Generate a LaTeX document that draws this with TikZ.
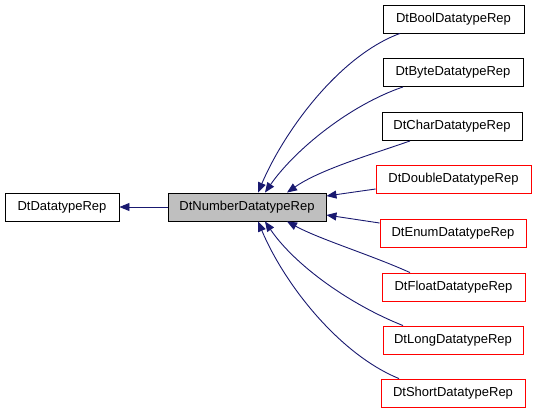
\documentclass[tikz,border=0pt]{standalone}
\usepackage{fontspec}
\setmainfont{Liberation Sans}
\usetikzlibrary{arrows.meta}
\definecolor{edgeblue}{HTML}{191970}
\definecolor{boxgray}{HTML}{BFBFBF}
\definecolor{boxred}{HTML}{FF0000}
\tikzset{
  cls/.style={draw=black, line width=0.9pt, minimum height=28pt, inner sep=0pt, font=\fontsize{13}{15}\selectfont, anchor=center},
  redcls/.style={cls, draw=boxred},
  inh/.style={draw=edgeblue, line width=0.9pt, -{Triangle[length=10pt,width=8pt]}}
}
\begin{document}
\begin{tikzpicture}[x=1pt,y=-1pt]
\useasboundingbox (0,0) rectangle (536,413);
\node[cls, minimum width=114pt] (dt) at (62,207) {DtDatatypeRep};
\node[cls, fill=boxgray, minimum width=158pt] (num) at (247,207) {DtNumberDatatypeRep};
\node[cls, minimum width=141pt] (bool) at (453.5,19) {DtBoolDatatypeRep};
\node[cls, minimum width=140pt] (byte) at (453,72.5) {DtByteDatatypeRep};
\node[cls, minimum width=140pt] (char) at (452,126.5) {DtCharDatatypeRep};
\node[redcls, minimum width=155pt] (double) at (453.5,179.5) {DtDoubleDatatypeRep};
\node[redcls, minimum width=146pt] (enum) at (453,233) {DtEnumDatatypeRep};
\node[redcls, minimum width=143pt] (float) at (453.5,287) {DtFloatDatatypeRep};
\node[redcls, minimum width=140pt] (long) at (453,340) {DtLongDatatypeRep};
\node[redcls, minimum width=144pt] (short) at (453,393) {DtShortDatatypeRep};

\draw[inh] (num.west) -- (dt.east);
\draw[inh] ([xshift=-53.5pt]bool.south) .. controls +(-60,22) and +(27,-63) .. ([xshift=11pt]num.north);
\draw[inh] ([xshift=-50pt]byte.south) .. controls +(-53,18) and +(30,-43) .. ([xshift=18pt]num.north);
\draw[inh] ([xshift=-42pt]char.south) .. controls +(-40,14) and +(33,-23) .. ([xshift=40pt]num.north);
\draw[inh] ([yshift=-9.5pt]double.west) -- ([yshift=11pt]num.east);
\draw[inh] ([yshift=10pt]enum.west) -- ([yshift=-8pt]num.east);
\draw[inh] ([xshift=-43.5pt]float.north) .. controls +(-40,-18) and +(33,18) .. ([xshift=40pt]num.south);
\draw[inh] ([xshift=-50pt]long.north) .. controls +(-53,-21) and +(30,44) .. ([xshift=18pt]num.south);
\draw[inh] ([xshift=-54pt]short.north) .. controls +(-59,-24) and +(27,64) .. ([xshift=11pt]num.south);
\end{tikzpicture}
\end{document}
